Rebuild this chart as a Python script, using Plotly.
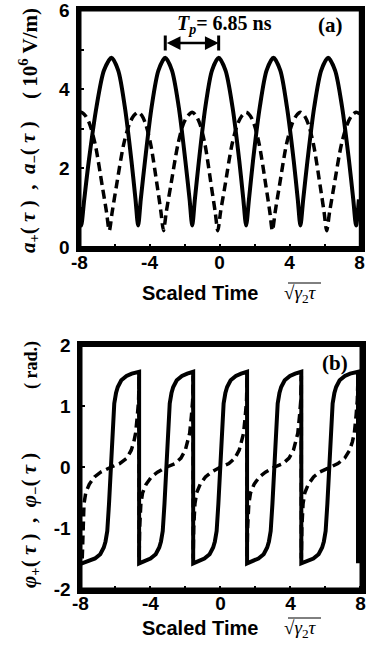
import plotly.graph_objects as go

# ---------------- data ----------------
# Panel (a): a+(tau) solid, a-(tau) dashed   (10^6 V/m)
a_plus_x = [-8.0, -7.9, -7.73, -7.47, -7.03, -6.6, -6.17, -5.79, -5.41, -5.03, -4.8, -4.65,
            -4.5, -4.26, -3.88, -3.49, -3.1, -2.72, -2.33, -1.95, -1.71, -1.56,
            -1.41, -1.18, -0.81, -0.43, -0.05, 0.34, 0.74, 1.13, 1.36, 1.52,
            1.68, 1.91, 2.3, 2.69, 3.08, 3.47, 3.85, 4.24, 4.47, 4.62,
            4.78, 5.02, 5.41, 5.81, 6.2, 6.6, 7.0, 7.4, 7.64, 7.8, 7.96]
a_plus_y = [0.98, 0.55, 1.21, 2.18, 3.55, 4.48, 4.8, 4.48, 3.55, 2.18, 1.21, 0.55,
            1.21, 2.18, 3.55, 4.48, 4.8, 4.48, 3.55, 2.18, 1.21, 0.55,
            1.21, 2.18, 3.55, 4.48, 4.8, 4.48, 3.55, 2.18, 1.21, 0.55,
            1.21, 2.18, 3.55, 4.48, 4.8, 4.48, 3.55, 2.18, 1.21, 0.55,
            1.21, 2.18, 3.55, 4.48, 4.8, 4.48, 3.55, 2.18, 1.21, 0.55, 1.21]

a_minus_x = [-8.0, -7.9, -7.66, -7.42, -7.1, -6.7, -6.46, -6.3, -6.13, -5.89, -5.48, -5.15, -4.9, -4.65,
             -4.43, -4.22, -3.93, -3.56, -3.35, -3.2, -3.04, -2.79, -2.38, -2.07, -1.81, -1.56,
             -1.34, -1.12, -0.83, -0.47, -0.25, -0.1, 0.06, 0.31, 0.71, 1.03, 1.28, 1.52,
             1.75, 1.97, 2.27, 2.65, 2.87, 3.02, 3.18, 3.42, 3.82, 4.14, 4.38, 4.62,
             4.85, 5.07, 5.37, 5.75, 5.97, 6.12, 6.29, 6.54, 6.96, 7.3, 7.55, 7.8, 8.0]
a_minus_y = [3.4, 3.42, 3.33, 3.12, 2.6, 1.55, 0.9, 0.42, 0.9, 1.55, 2.6, 3.12, 3.33, 3.42,
             3.33, 3.12, 2.6, 1.55, 0.9, 0.42, 0.9, 1.55, 2.6, 3.12, 3.33, 3.42,
             3.33, 3.12, 2.6, 1.55, 0.9, 0.42, 0.9, 1.55, 2.6, 3.12, 3.33, 3.42,
             3.33, 3.12, 2.6, 1.55, 0.9, 0.42, 0.9, 1.55, 2.6, 3.12, 3.33, 3.42,
             3.33, 3.12, 2.6, 1.55, 0.9, 0.42, 0.9, 1.55, 2.6, 3.12, 3.33, 3.42, 3.38]

# Panel (b): phi+(tau) solid, phi-(tau) dashed   (rad.)
phi_plus_x = [-8.0,
              -7.9, -7.47, -7.17, -6.87, -6.67, -6.57, -6.47, -6.37, -6.27, -6.17, -6.07, -5.97, -5.87, -5.67, -5.37, -5.07, -4.65,
              -4.65, -4.3, -4.0, -3.7, -3.5, -3.4, -3.3, -3.2, -3.1, -3.0, -2.9, -2.8, -2.7, -2.5, -2.2, -1.9, -1.56,
              -1.56, -1.22, -0.92, -0.62, -0.42, -0.32, -0.22, -0.12, -0.02, 0.08, 0.18, 0.28, 0.38, 0.58, 0.88, 1.18, 1.52,
              1.52, 1.87, 2.17, 2.47, 2.67, 2.77, 2.87, 2.97, 3.07, 3.17, 3.27, 3.37, 3.47, 3.67, 3.97, 4.27, 4.62,
              4.62, 5.01, 5.31, 5.61, 5.81, 5.91, 6.01, 6.11, 6.21, 6.31, 6.41, 6.51, 6.61, 6.81, 7.11, 7.41, 7.86,
              7.86]
phi_plus_y = [-1.59,
              -1.58, -1.54, -1.5, -1.43, -1.32, -1.22, -1.05, -0.6, 0.0, 0.6, 1.05, 1.22, 1.32, 1.43, 1.5, 1.54, 1.57,
              -1.58, -1.54, -1.5, -1.43, -1.32, -1.22, -1.05, -0.6, 0.0, 0.6, 1.05, 1.22, 1.32, 1.43, 1.5, 1.54, 1.57,
              -1.58, -1.54, -1.5, -1.43, -1.32, -1.22, -1.05, -0.6, 0.0, 0.6, 1.05, 1.22, 1.32, 1.43, 1.5, 1.54, 1.57,
              -1.58, -1.54, -1.5, -1.43, -1.32, -1.22, -1.05, -0.6, 0.0, 0.6, 1.05, 1.22, 1.32, 1.43, 1.5, 1.54, 1.57,
              -1.58, -1.54, -1.5, -1.43, -1.32, -1.22, -1.05, -0.6, 0.0, 0.6, 1.05, 1.22, 1.32, 1.43, 1.5, 1.54, 1.57,
              -1.58]

phi_minus_x = [-7.9, -7.87, -7.8, -7.7, -7.5, -7.2, -6.85, -6.27, -5.77, -5.35, -5.1, -4.95, -4.85, -4.75, -4.68, -4.65,
               -4.65, -4.62, -4.55, -4.45, -4.25, -3.95, -3.6, -3.1, -2.6, -2.26, -2.01, -1.86, -1.76, -1.66, -1.59, -1.56,
               -1.56, -1.53, -1.46, -1.36, -1.16, -0.86, -0.51, -0.02, 0.48, 0.82, 1.07, 1.22, 1.32, 1.42, 1.49, 1.52,
               1.52, 1.55, 1.62, 1.72, 1.92, 2.22, 2.57, 3.07, 3.57, 3.92, 4.17, 4.32, 4.42, 4.52, 4.59, 4.62,
               4.62, 4.65, 4.72, 4.82, 5.02, 5.32, 5.67, 6.21, 6.71, 7.1, 7.38, 7.54, 7.65, 7.75, 7.82, 7.86]
phi_minus_y = [-1.5, -1.0, -0.6, -0.42, -0.28, -0.16, -0.08, 0.0, 0.06, 0.15, 0.28, 0.42, 0.56, 0.85, 1.1, 1.5,
               -1.5, -1.0, -0.6, -0.42, -0.28, -0.16, -0.08, 0.0, 0.06, 0.15, 0.28, 0.42, 0.56, 0.85, 1.1, 1.5,
               -1.5, -1.0, -0.6, -0.42, -0.28, -0.16, -0.08, 0.0, 0.06, 0.15, 0.28, 0.42, 0.56, 0.85, 1.1, 1.5,
               -1.5, -1.0, -0.6, -0.42, -0.28, -0.16, -0.08, 0.0, 0.06, 0.15, 0.28, 0.42, 0.56, 0.85, 1.1, 1.5,
               -1.5, -1.0, -0.6, -0.42, -0.28, -0.16, -0.08, 0.0, 0.06, 0.15, 0.28, 0.42, 0.56, 0.85, 1.1, 1.5]

x_tick_vals = [-8, -6, -4, -2, 0, 2, 4, 6, 8]
x_tick_text = ["-8", " ", "-4", " ", "0", " ", "4", " ", "8"]
ya_tick_vals = [0, 1, 2, 3, 4, 5, 6]
ya_tick_text = ["0", " ", "2", " ", "4", " ", "6"]
yb_tick_vals = [-2, -1, 0, 1, 2]
yb_tick_text = ["-2", "-1", "0", "1", "2"]

# period marker between two neighbouring maxima of a+
tp_start, tp_end = -3.1, -0.05
tp_label = "<b><i>T</i><sub><i>p</i></sub>= 6.85 ns</b>"

# ---------------- figure ----------------
W, H = 369, 662
SANS = "Liberation Sans"
SERIF = "Liberation Serif"
NB = "\u00a0"
fig = go.Figure()

fig.add_trace(go.Scatter(x=a_minus_x, y=a_minus_y, mode="lines", xaxis="x", yaxis="y",
                         line=dict(color="black", width=3.5, dash="9px,5px", shape="spline", smoothing=0.8)))
fig.add_trace(go.Scatter(x=a_plus_x, y=a_plus_y, mode="lines", xaxis="x", yaxis="y",
                         line=dict(color="black", width=4, shape="spline", smoothing=0.8)))
fig.add_trace(go.Scatter(x=phi_minus_x, y=phi_minus_y, mode="lines", xaxis="x2", yaxis="y2",
                         line=dict(color="black", width=3.5, dash="9px,5px")))
fig.add_trace(go.Scatter(x=phi_plus_x, y=phi_plus_y, mode="lines", xaxis="x2", yaxis="y2",
                         line=dict(color="black", width=4)))

axis_common = dict(showline=True, mirror=True, linecolor="black", linewidth=4,
                   ticks="inside", ticklen=4, tickwidth=2, tickcolor="black",
                   showgrid=False, zeroline=False, automargin=False, ticklabeloverflow="allow",
                   tickfont=dict(family=SANS, size=19, color="black", weight="bold"))

fig.update_layout(
    width=W, height=H, autosize=False, showlegend=False,
    margin=dict(l=0, r=0, t=0, b=0),
    paper_bgcolor="white", plot_bgcolor="white",
    xaxis=dict(domain=[79.5 / W, 360.8 / W], range=[-8.0, 8.07], anchor="y",
               tickvals=x_tick_vals, ticktext=x_tick_text, ticklabelstandoff=-6, **axis_common),
    yaxis=dict(domain=[1 - 248 / H, 1 - 9.5 / H], range=[-0.02, 6.02], anchor="x",
               tickvals=ya_tick_vals, ticktext=ya_tick_text, ticklabelstandoff=2, **axis_common),
    xaxis2=dict(domain=[80.5 / W, 361.5 / W], range=[-8.0, 8.06], anchor="y2",
                tickvals=x_tick_vals, ticktext=x_tick_text, ticklabelstandoff=-6, **axis_common),
    yaxis2=dict(domain=[1 - 589.5 / H, 1 - 345 / H], range=[-2.01, 2.01], anchor="x2",
                tickvals=yb_tick_vals, ticktext=yb_tick_text, ticklabelstandoff=2, **axis_common),
)

ann = []
# T_p double arrow
tp_y = 5.17
ann.append(dict(x=tp_end, y=tp_y, ax=tp_start, ay=tp_y, xref="x", yref="y", axref="x", ayref="y",
                text="", showarrow=True, arrowhead=2, arrowside="end+start", arrowsize=1.1,
                arrowwidth=2.5, arrowcolor="black", standoff=0, startstandoff=0))
ann.append(dict(x=0.26, y=5.64, xref="x", yref="y", text=tp_label, showarrow=False,
                xanchor="center", yanchor="middle",
                font=dict(family=SERIF, size=20, color="black")))
ann.append(dict(x=6.33, y=5.62, xref="x", yref="y", text="<b>(a)</b>", showarrow=False,
                xanchor="center", yanchor="middle",
                font=dict(family=SERIF, size=21, color="black")))
ann.append(dict(x=6.55, y=1.72, xref="x2", yref="y2", text="<b>(b)</b>", showarrow=False,
                xanchor="center", yanchor="middle",
                font=dict(family=SERIF, size=21, color="black")))

# y titles (rotated)
sp2 = NB * 2
def side_title(xpx, ypx, text, size):
    return dict(x=xpx / W, y=1 - ypx / H, xref="paper", yref="paper", textangle=-90, showarrow=False,
                xanchor="center", yanchor="middle", text=text,
                font=dict(family=SERIF, size=size, color="black"))

ann.append(side_title(29, 187, f"<b><i>a</i><sub>+</sub>({NB}<i>τ</i>{NB}){sp2},{sp2}<i>a</i><sub>−</sub>({NB}<i>τ</i>{NB})</b>", 21))
ann.append(side_title(29, 54, f"<b>({NB}10<sup>6</sup> V/m)</b>", 21))
ann.append(side_title(30, 521, f"<b><i>φ</i><sub>+</sub>({NB}<i>τ</i>{NB}){sp2},{sp2}<i>φ</i><sub>−</sub>({NB}<i>τ</i>{NB})</b>", 21))
ann.append(side_title(31, 365, f"<b>({NB}rad.)</b>", 18))

# x titles
for ypx in (293, 628):
    ann.append(dict(x=200 / W, y=1 - ypx / H, xref="paper", yref="paper", showarrow=False,
                    xanchor="center", yanchor="middle",
                    text="<b>Scaled Time</b>", font=dict(family=SANS, size=20, color="black")))
    ann.append(dict(x=300 / W, y=1 - (ypx + 1) / H, xref="paper", yref="paper", showarrow=False,
                    xanchor="center", yanchor="middle",
                    text="√<i>γ</i><sub>2</sub><i>τ</i>", font=dict(family=SERIF, size=19, color="black")))
fig.update_layout(annotations=ann)

shapes = []
# plot frames
for xa, ya in (("x", "y"), ("x2", "y2")):
    shapes.append(dict(type="rect", xref=f"{xa} domain", yref=f"{ya} domain", x0=0, x1=1, y0=0, y1=1,
                       line=dict(color="black", width=4), fillcolor="rgba(0,0,0,0)", layer="above"))
for xv in (tp_start, tp_end):
    shapes.append(dict(type="line", xref="x", yref="y", x0=xv, x1=xv, y0=4.98, y1=5.36,
                       line=dict(color="black", width=3)))
for ypx in (293, 628):
    shapes.append(dict(type="line", xref="paper", yref="paper", x0=288 / W, x1=321 / W,
                       y0=1 - (ypx - 10) / H, y1=1 - (ypx - 10) / H, line=dict(color="black", width=1)))
fig.update_layout(shapes=shapes)

fig.write_html("out.html", config={"displayModeBar": False},
               post_script="document.body.style.margin='0';document.body.style.overflow='hidden';")
